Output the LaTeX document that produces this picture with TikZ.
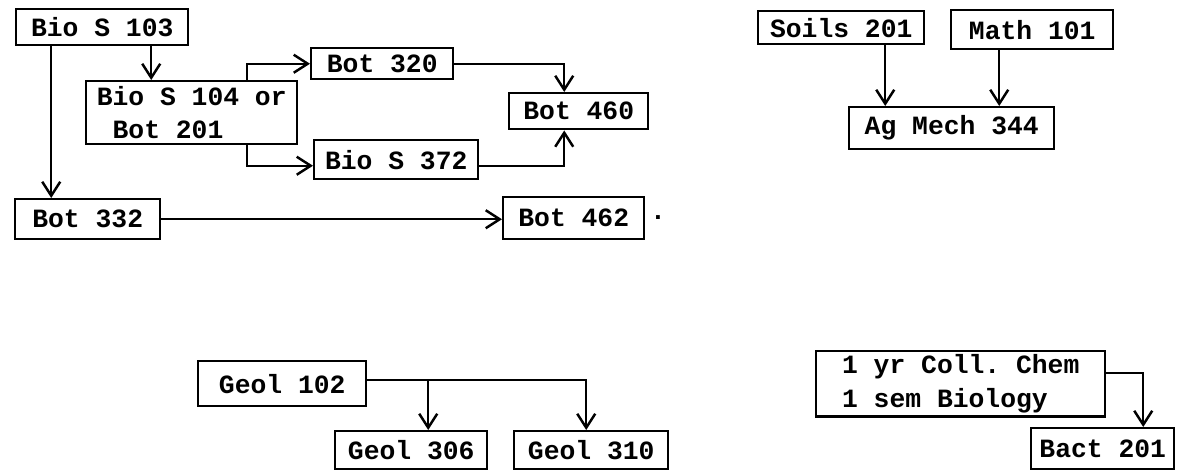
\documentclass[tikz,border=0pt]{standalone}
\usepackage{fontspec}
\setmonofont{Liberation Mono}
\usetikzlibrary{arrows.meta}

\begin{document}
\begin{tikzpicture}
    \tikzset{
      course/.style={rectangle, draw, line width=1.4pt, anchor=north west,
        inner sep=2pt, font=\ttfamily\bfseries\fontsize{15}{19}\selectfont},
      arrow/.style={line width=1.4pt,
        -{Straight Barb[length=0.28cm, width=0.36cm, line width=1.4pt]}}
    }
    \useasboundingbox (0,0) rectangle (23.56,-9.4);
    % botany chain
    \node[course, minimum width=3.44cm, minimum height=0.72cm] (bio103) at (0.30,-0.16) {Bio S 103};
    \node[course, minimum width=4.22cm, minimum height=1.26cm, align=left] (bio104) at (1.70,-1.60) {Bio S 104 or\\\hspace*{0.6em}Bot 201};
    \node[course, minimum width=2.84cm, minimum height=0.62cm] (bot320) at (6.20,-0.94) {Bot 320};
    \node[course, minimum width=2.78cm, minimum height=0.72cm] (bot460) at (10.16,-1.84) {Bot 460};
    \node[course, minimum width=3.28cm, minimum height=0.78cm] (bio372) at (6.26,-2.78) {Bio S 372};
    \node[course, minimum width=2.90cm, minimum height=0.80cm] (bot332) at (0.28,-3.96) {Bot 332};
    \node[course, minimum width=2.82cm, minimum height=0.84cm] (bot462) at (10.04,-3.92) {Bot 462};
    \node[font=\ttfamily\bfseries\fontsize{15}{19}\selectfont] (dot) at (13.16,-4.36) {.};
    \draw[arrow] ([xshift=-0.73cm]bot332.north |- bio103.south) -- ([xshift=-0.73cm]bot332.north);
    \draw[arrow] ([xshift=-0.81cm]bio104.north |- bio103.south) -- ([xshift=-0.81cm]bio104.north);
    \draw[arrow] ([xshift=1.11cm]bio104.north) |- (bot320.west);
    \draw[arrow] ([xshift=1.11cm]bio104.south) |- ([yshift=-0.12cm]bio372.west);
    \draw[arrow] (bot320.east) -| ([xshift=-0.29cm]bot460.north);
    \draw[arrow] ([yshift=-0.12cm]bio372.east) -| ([xshift=-0.29cm]bot460.south);
    \draw[arrow] (bot332.east) -- (bot332.east -| bot462.west);
    % ag mech
    \node[course, minimum width=3.32cm, minimum height=0.66cm] (soils) at (15.14,-0.20) {Soils 201};
    \node[course, minimum width=3.24cm, minimum height=0.78cm] (math) at (19.00,-0.18) {Math 101};
    \node[course, minimum width=4.10cm, minimum height=0.84cm] (agmech) at (16.96,-2.12) {Ag Mech 344};
    \draw[arrow] ([xshift=0.88cm]soils.south) -- ([xshift=0.88cm]soils.south |- agmech.north);
    \draw[arrow] ([xshift=-0.66cm]math.south) -- ([xshift=-0.66cm]math.south |- agmech.north);
    % geology
    \node[course, minimum width=3.36cm, minimum height=0.90cm] (geol102) at (3.94,-7.20) {Geol 102};
    \node[course, minimum width=3.04cm, minimum height=0.76cm] (geol306) at (6.68,-8.60) {Geol 306};
    \node[course, minimum width=3.08cm, minimum height=0.76cm] (geol310) at (10.26,-8.60) {Geol 310};
    \draw[arrow] ([yshift=0.07cm]geol102.east) -| ([xshift=-0.10cm]geol310.north);
    \draw[arrow] ([xshift=0.34cm, yshift=0.07cm]geol306.north |- geol102.east) -- ([xshift=0.34cm]geol306.north);
    % bacteriology
    \node[course, minimum width=5.78cm, minimum height=1.04cm, align=left] (chem) at (16.30,-7.00) {1 yr Coll. Chem\\1 sem Biology};
    \node[course, minimum width=2.86cm, minimum height=0.82cm] (bact) at (20.60,-8.54) {Bact 201};
    \draw[arrow] ([yshift=0.22cm]chem.east) -| ([xshift=0.81cm]bact.north);
\end{tikzpicture}
\end{document}
